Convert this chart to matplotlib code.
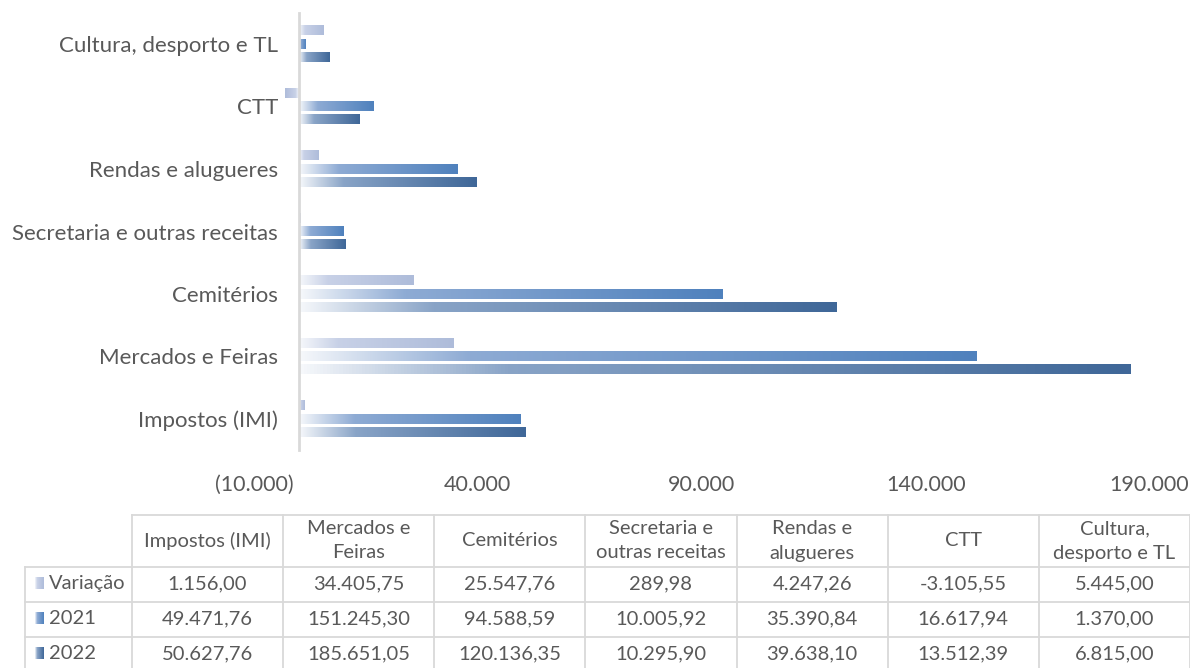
import numpy as np
import matplotlib.pyplot as plt
from matplotlib.colors import LinearSegmentedColormap

# ─── Data ──────────────────────────────────────────────────────────────────────
categories = ['Impostos (IMI)', 'Mercados e Feiras', 'Cemitérios',
              'Secretaria e outras receitas', 'Rendas e alugueres', 'CTT',
              'Cultura, desporto e TL']
header_labels = ['Impostos (IMI)', 'Mercados e\nFeiras', 'Cemitérios',
                 'Secretaria e\noutras receitas', 'Rendas e\nalugueres', 'CTT',
                 'Cultura,\ndesporto e TL']
series_names = ['Variação', '2021', '2022']
variacao = [1156.00, 34405.75, 25547.76, 289.98, 4247.26, -3105.55, 5445.00]
v2021    = [49471.76, 151245.30, 94588.59, 10005.92, 35390.84, 16617.94, 1370.00]
v2022    = [50627.76, 185651.05, 120136.35, 10295.90, 39638.10, 13512.39, 6815.00]
xticks   = [-10000, 40000, 90000, 140000, 190000]

series = [variacao, v2021, v2022]

# ─── Style ─────────────────────────────────────────────────────────────────────
plt.rcParams['font.family'] = ['Lato', 'DejaVu Sans']
TXT  = '#595959'
GRID = '#d9d9d9'
end_colors = ['#aebcda', '#4f81bd', '#3f6798']
mid_colors = ['#c8d1e7', '#8eabd4', '#89a4c7']
cmaps = [LinearSegmentedColormap.from_list(
            f'g{i}', [(0, '#f6f8fb'), (0.25, mid_colors[i]), (1, end_colors[i])])
         for i in range(3)]
grad = np.linspace(0, 1, 256).reshape(1, -1)


def fmt_pt(v, dec=2):
    s = f"{abs(v):,.{dec}f}".replace(',', 'X').replace('.', ',').replace('X', '.')
    return ('-' if v < 0 else '') + s


def fmt_tick(v):
    s = fmt_pt(abs(v), 0)
    return f"({s})" if v < 0 else s


W, H = 1190, 668
fig = plt.figure(figsize=(W / 100, H / 100), dpi=100)

# ─── Bar chart ─────────────────────────────────────────────────────────────────
ax = fig.add_axes([254 / W, 1 - 450.25 / H, 895.5 / W, 437.5 / H])
# vertical axis crosses at zero (set before tick labels: this resets ticks)
for sp in ['top', 'right', 'bottom']:
    ax.spines[sp].set_visible(False)
ax.spines['left'].set_position(('data', 0))
ax.spines['left'].set_color(GRID)
ax.spines['left'].set_linewidth(2)
ax.patch.set_alpha(0)

y = np.arange(len(categories))
offsets = [0.212, 0.0, -0.212]
bar_h = 0.15

for s_idx, vals in enumerate(series):
    bars = ax.barh(y + offsets[s_idx], vals, height=bar_h, color='none', zorder=1)
    for b in bars:
        x0, y0 = b.get_x(), b.get_y()
        ax.imshow(grad, extent=[x0, x0 + b.get_width(), y0, y0 + b.get_height()],
                  cmap=cmaps[s_idx], aspect='auto', zorder=2, interpolation='bilinear')

ax.set_xlim(-10000, 190000)
ax.set_ylim(-0.5, len(categories) - 0.5)
ax.set_yticks(y)
ax.set_yticklabels(categories, fontsize=16, color=TXT)
ax.set_xticks(xticks)
ax.set_xticklabels([fmt_tick(t) for t in xticks], fontsize=15.5, color=TXT)
ax.tick_params(axis='y', length=0, pad=15)
ax.tick_params(axis='x', length=0, pad=18)

# ─── Data table ────────────────────────────────────────────────────────────────
tab = fig.add_axes([0, 0, 1, 1])
tab.axis('off')
col_edges = np.linspace(132, 1190, len(categories) + 1)
row_edges = [515, 567, 602, 637, 672]
lw = 1.3

tab.plot([132, 1190], [row_edges[0]] * 2, color=GRID, lw=lw)
for ry in row_edges[1:4]:
    tab.plot([25, 1190], [ry, ry], color=GRID, lw=lw)
for cx in col_edges:
    tab.plot([cx, cx], [row_edges[0], H], color=GRID, lw=lw)
tab.plot([25, 25], [row_edges[1], H], color=GRID, lw=lw)

for c, lab in enumerate(header_labels):
    cx = (col_edges[c] + col_edges[c + 1]) / 2
    tab.text(cx, (row_edges[0] + row_edges[1]) / 2, lab, ha='center', va='center',
             fontsize=14.5, color=TXT, linespacing=1.5)

for r, vals in enumerate(series):
    cy = (row_edges[r + 1] + row_edges[r + 2]) / 2 - 1
    tab.imshow(grad, extent=[35, 44, cy + 6, cy - 6], cmap=cmaps[r], aspect='auto',
               interpolation='bilinear')
    tab.text(49, cy, series_names[r], ha='left', va='center', fontsize=14.5, color=TXT)
    for c, v in enumerate(vals):
        cx = (col_edges[c] + col_edges[c + 1]) / 2
        tab.text(cx, cy, fmt_pt(v), ha='center', va='center', fontsize=14.5, color=TXT)

tab.set_xlim(0, W)
tab.set_ylim(H, 0)

fig.savefig('out.png', dpi=100)
